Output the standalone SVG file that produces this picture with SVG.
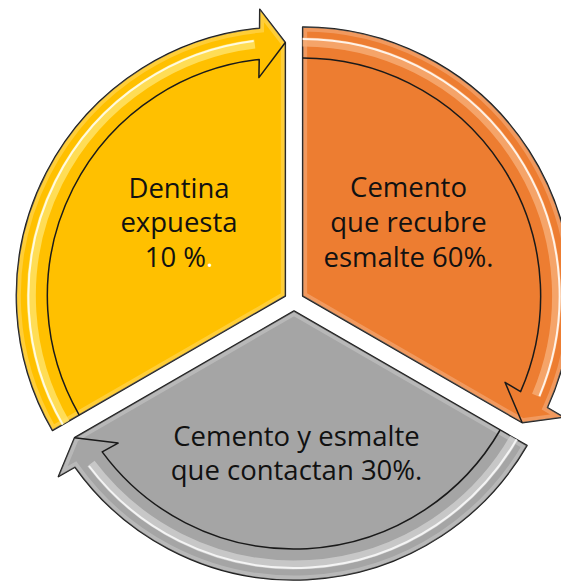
<svg xmlns="http://www.w3.org/2000/svg" xmlns:xlink="http://www.w3.org/1999/xlink" width="561" height="581" viewBox="0 0 561 581">
<defs>
<style>
.shape{stroke:#1a1a1a;stroke-width:1.5;stroke-linejoin:round}
.line{fill:none;stroke:#1a1a1a;stroke-width:1.5;stroke-linejoin:round}
.bevel{fill:none;stroke:#ffffff;stroke-width:9;stroke-opacity:0.22}
.gloss{fill:none}
.lbl{font-family:"Open Sans","Noto Sans",sans-serif;font-size:27.5px;fill:#111111;text-anchor:middle;font-variant-ligatures:none}
</style>
<path id="outline" d="M0,-10 L-232.96,-144.5 A269,269 0 0 1 219,-166.2 L235.6,-175.6 L219.5,-136.75 Z"/>
<path id="inner" d="M-206.12,-129 A238,238 0 0 1 191.8,-150.9 L175.9,-142.1 L219.5,-136.75"/>
<path id="glossWide" d="M-220,-137 A254,254 0 0 1 203,-162.5"/>
<path id="glossThin" d="M-222.5,-138.5 A257,257 0 0 1 205,-165"/>
<clipPath id="clip"><use xlink:href="#outline" href="#outline"/></clipPath>
</defs>

<g id="node-dentina" transform="translate(294,301) rotate(-60)">
<use xlink:href="#outline" href="#outline" class="shape" fill="#FFC000"/>
<use xlink:href="#outline" href="#outline" class="bevel" clip-path="url(#clip)"/>
<use xlink:href="#glossWide" href="#glossWide" class="gloss" stroke="#FFE36B" stroke-width="9" stroke-opacity="0.8"/>
<use xlink:href="#glossThin" href="#glossThin" class="gloss" stroke="#FFFBE0" stroke-width="2"/>
<use xlink:href="#inner" href="#inner" class="line"/>
</g>

<g id="node-cemento-recubre" transform="translate(294,301) rotate(60)">
<use xlink:href="#outline" href="#outline" class="shape" fill="#ED7D31"/>
<use xlink:href="#outline" href="#outline" class="bevel" clip-path="url(#clip)"/>
<use xlink:href="#glossWide" href="#glossWide" class="gloss" stroke="#F6AE78" stroke-width="9" stroke-opacity="0.8"/>
<use xlink:href="#glossThin" href="#glossThin" class="gloss" stroke="#FFF3E8" stroke-width="2"/>
<use xlink:href="#inner" href="#inner" class="line"/>
</g>

<g id="node-cemento-esmalte" transform="translate(294,301) rotate(180)">
<use xlink:href="#outline" href="#outline" class="shape" fill="#A5A5A5"/>
<use xlink:href="#outline" href="#outline" class="bevel" clip-path="url(#clip)"/>
<use xlink:href="#glossWide" href="#glossWide" class="gloss" stroke="#CFCFCF" stroke-width="9" stroke-opacity="0.8"/>
<use xlink:href="#glossThin" href="#glossThin" class="gloss" stroke="#F4F4F4" stroke-width="2"/>
<use xlink:href="#inner" href="#inner" class="line"/>
</g>

<g id="labels">
<text class="lbl" x="179" y="198">Dentina</text>
<text class="lbl" x="179" y="232">expuesta</text>
<text class="lbl" x="179" y="267">10 %<tspan fill="#ffffff">.</tspan></text>
<text class="lbl" x="408.5" y="197">Cemento</text>
<text class="lbl" x="408.5" y="232">que recubre</text>
<text class="lbl" x="408.5" y="267">esmalte 60%.</text>
<text class="lbl" x="296.5" y="446">Cemento y esmalte</text>
<text class="lbl" x="296.5" y="480">que contactan 30%.</text>
</g>
</svg>
